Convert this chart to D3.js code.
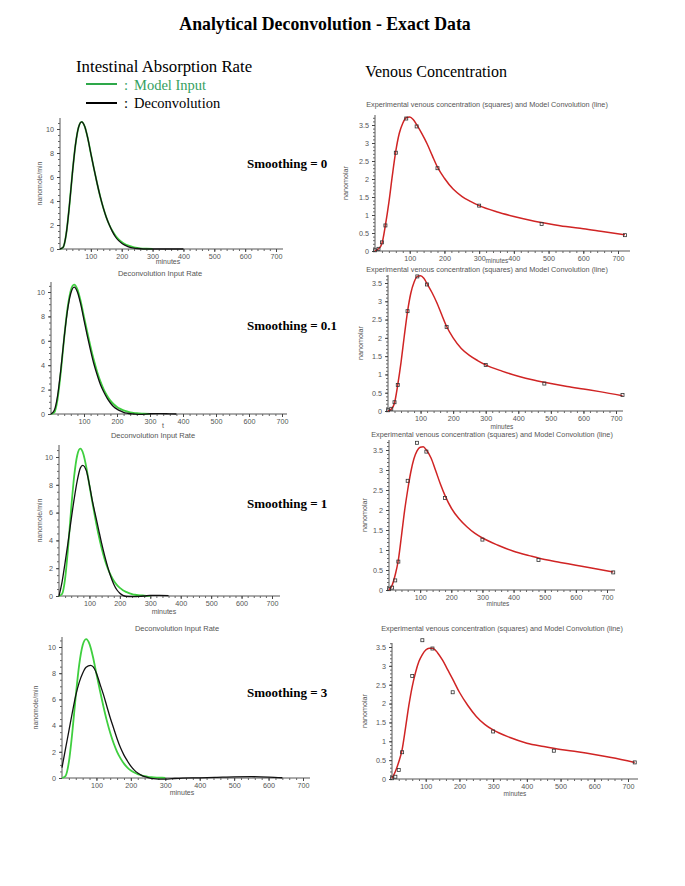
<!DOCTYPE html>
<html><head><meta charset="utf-8">
<script src="https://cdn.jsdelivr.net/npm/d3@7/dist/d3.min.js"></script>
<style>body{margin:0;background:#fff}svg{display:block}</style>
</head><body><svg id="c" width="685" height="886"></svg>
<script>
// ---------- DATA ----------
const smoothingLevels = ["0", "0.1", "1", "3"];
const rateTicksX = [100, 200, 300, 400, 500, 600, 700];
const rateTicksY = [0, 2, 4, 6, 8, 10];
const concTicksY = [0, 0.5, 1, 1.5, 2, 2.5, 3, 3.5];

// model input (green), nanomole/min
const modelT = [0,10,20,30,40,50,60,70,80,90,100,110,120,130,140,150,160,170,180,190,200,210,220,230,240,250,260,280,300];
const modelInput = [0,0.14,1.23,3.5,6.27,8.65,10.13,10.6,10.22,9.24,7.95,6.7,5.5,4.4,3.45,2.65,2.0,1.5,1.1,0.8,0.58,0.42,0.3,0.21,0.14,0.09,0.06,0.03,0.01];

// deconvolution (black) for each smoothing level
const deconv0T = [0,10,20,30,40,50,60,70,80,90,100,110,120,130,140,150,160,170,180,190,200,210,220,230,240,250,260,280,300,350,400];
const deconv0 = [0,0.14,1.23,3.5,6.27,8.65,10.13,10.6,10.22,9.24,7.95,6.7,5.5,4.4,3.45,2.65,2.0,1.45,1.0,0.7,0.48,0.32,0.2,0.12,0.07,0.04,0.02,0,0,0,0];
const deconv01T = [0,10,20,30,40,50,60,70,80,90,100,110,120,130,140,150,160,170,180,190,200,210,220,230,240,250,270,300,330,360,380];
const deconv01 = [0,0.3,1.5,3.7,6.3,8.5,9.9,10.4,10.0,9.0,7.7,6.4,5.2,4.1,3.2,2.4,1.8,1.3,0.9,0.6,0.4,0.25,0.14,0.07,0.02,0,-0.03,0.02,0.03,0.01,0];
const deconv1T = [0,10,20,30,40,50,60,70,78,90,100,110,120,130,140,150,160,170,180,190,200,210,220,240,260,280,300,330,360];
const deconv1 = [0,1.0,2.4,3.9,5.5,7.0,8.3,9.2,9.4,9.0,8.0,6.8,5.8,4.8,3.8,2.9,2.1,1.4,0.85,0.45,0.2,0.05,-0.02,-0.05,-0.03,0,0.04,0.05,0.02];
const deconv3T = [0,10,20,30,40,50,60,70,83,90,100,110,120,130,140,150,160,170,180,190,200,210,220,230,240,250,265,280,300,320,350,400,450,500,550,600,640];
const deconv3 = [0.8,2.2,3.6,5.0,6.3,7.3,8.0,8.45,8.6,8.5,8.0,7.2,6.4,5.5,4.6,3.8,3.0,2.3,1.75,1.3,0.9,0.6,0.38,0.22,0.1,0.03,-0.05,-0.08,-0.08,-0.05,-0.01,0.01,0.05,0.09,0.1,0.07,0.02];

// venous concentration: model convolution (red line)
const convT = [0,10,20,30,40,50,60,70,80,90,100,110,120,135,150,165,180,200,225,250,275,300,350,400,450,500,550,600,650,720];
const conv0 = [0,0.06,0.21,0.72,1.35,2.1,2.78,3.27,3.55,3.7,3.72,3.65,3.51,3.26,2.98,2.65,2.33,2.02,1.72,1.52,1.38,1.26,1.09,0.96,0.85,0.76,0.68,0.62,0.55,0.45];
const conv01 = [0,0.05,0.22,0.72,1.33,2.05,2.72,3.22,3.52,3.68,3.7,3.63,3.48,3.24,2.96,2.63,2.31,2.0,1.71,1.52,1.38,1.26,1.09,0.95,0.84,0.75,0.67,0.6,0.53,0.42];
const conv1 = [0,0.12,0.38,0.75,1.35,1.98,2.5,2.95,3.28,3.48,3.57,3.58,3.5,3.3,2.98,2.65,2.36,2.05,1.78,1.58,1.42,1.3,1.12,0.97,0.86,0.76,0.69,0.62,0.55,0.45];
const conv3 = [0.02,0.2,0.45,0.78,1.35,1.95,2.45,2.83,3.12,3.3,3.42,3.47,3.47,3.35,3.15,2.9,2.65,2.3,1.95,1.66,1.45,1.3,1.1,0.95,0.86,0.78,0.72,0.65,0.57,0.44];

// experimental venous concentration (squares)
const obsT = [0,10,20,30,60,90,120,180,300,480,720];
const obsConc = [0.02,0.06,0.24,0.71,2.73,3.68,3.46,2.3,1.26,0.75,0.44];

// ---------- LAYOUT ----------
const leftLayout = [
  {ox:60, x700:276, xEnd:283, oy:249, yT:129, yTop:118, yLab:42, xLabY:264, xLab:"minutes", xLabX:168, title:null, sY:168},
  {ox:51, x700:282, xEnd:287, oy:414, yT:292, yTop:282, yLab:null, xLabY:428, xLab:"t", xLabX:163, title:{y:276,x:160}, sY:330},
  {ox:59, x700:272, xEnd:280, oy:596, yT:457, yTop:445, yLab:42, xLabY:614, xLab:"minutes", xLabX:164, title:{y:438,x:153}, sY:508},
  {ox:62, x700:303, xEnd:310, oy:778, yT:647, yTop:637, yLab:38, xLabY:795, xLab:"minutes", xLabX:182, title:{y:631,x:177}, sY:697}
];
const rightLayout = [
  {ox:375, x700:618, xEnd:630, oy:251, yT:125, yTop:115, yLab:348, xLabY:263, xLabX:497, title:{y:272,x:487}, t0:107},
  {ox:388, x700:616, xEnd:623, oy:411, yT:283, yTop:275, yLab:363, xLabY:428.5, xLabX:502, title:{y:437,x:492}, t0:null},
  {ox:389, x700:607, xEnd:615, oy:590, yT:450, yTop:440, yLab:367, xLabY:606, xLabX:498, title:null, t0:null},
  {ox:392, x700:628, xEnd:638, oy:779, yT:647, yTop:643, yLab:367, xLabY:796, xLabX:515, title:null, t0:631}
];
const deconvSeries = [[deconv0T,deconv0],[deconv01T,deconv01],[deconv1T,deconv1],[deconv3T,deconv3]];
const convSeries = [conv0, conv01, conv1, conv3];

const svg = d3.select("#c");
const SANS = "'Liberation Sans', Arial, sans-serif";
const SERIF = "'Liberation Serif', 'Times New Roman', serif";
const GREEN = "#3fcf3f", RED = "#d02424", BLACK = "#111";
const CONC_TITLE = "Experimental venous concentration (squares) and Model Convolution (line)";

// headings
svg.append("text").attr("x", 325).attr("y", 30).attr("text-anchor","middle")
  .attr("font-family", SERIF).attr("font-weight","bold").attr("font-size",17.8)
  .text("Analytical Deconvolution - Exact Data");
svg.append("text").attr("x", 76).attr("y", 72).attr("font-family", SERIF).attr("font-size",16.8)
  .text("Intestinal Absorption Rate");
svg.append("text").attr("x", 436).attr("y", 77).attr("text-anchor","middle")
  .attr("font-family", SERIF).attr("font-size",16).text("Venous Concentration");
// legend
svg.append("line").attr("x1",86).attr("x2",117).attr("y1",84).attr("y2",84).attr("stroke","#2ea84a").attr("stroke-width",2);
svg.append("text").attr("x",124).attr("y",90).attr("font-family",SERIF).attr("font-size",14.5).attr("fill","#35a060").text(":");
svg.append("text").attr("x",134).attr("y",90).attr("font-family",SERIF).attr("font-size",14.5).attr("fill","#35a060").text("Model Input");
svg.append("line").attr("x1",86).attr("x2",117).attr("y1",103).attr("y2",103).attr("stroke","#000").attr("stroke-width",2);
svg.append("text").attr("x",124).attr("y",108).attr("font-family",SERIF).attr("font-size",14.5).text(":");
svg.append("text").attr("x",134).attr("y",108).attr("font-family",SERIF).attr("font-size",14.5).text("Deconvolution");

function drawAxes(g, L, x, y, yTicks, yMinorStep, yMax, fmt) {
  g.append("line").attr("x1",L.ox).attr("x2",L.xEnd).attr("y1",L.oy).attr("y2",L.oy).attr("stroke","#444").attr("stroke-width",0.9);
  g.append("line").attr("x1",L.ox).attr("x2",L.ox).attr("y1",L.oy).attr("y2",L.yTop).attr("stroke","#444").attr("stroke-width",0.9);
  const xm = d3.range(20, 720, 20);
  g.append("g").attr("transform",`translate(0,${L.oy})`)
    .call(d3.axisBottom(x).tickValues(xm).tickSize(2).tickFormat(""))
    .call(s => { s.select(".domain").remove(); s.selectAll("line").attr("stroke","#666"); });
  g.append("g").attr("transform",`translate(0,${L.oy})`)
    .call(d3.axisBottom(x).tickValues(rateTicksX).tickSize(3).tickPadding(1.5))
    .call(s => { s.select(".domain").remove(); s.selectAll("line").attr("stroke","#444");
      s.selectAll("text").attr("font-family",SANS).attr("font-size",7.2).attr("fill","#555"); });
  const ym = d3.range(0, yMax + 1e-9, yMinorStep);
  g.append("g").attr("transform",`translate(${L.ox},0)`)
    .call(d3.axisLeft(y).tickValues(ym).tickSize(2).tickFormat(""))
    .call(s => { s.select(".domain").remove(); s.selectAll("line").attr("stroke","#666"); });
  g.append("g").attr("transform",`translate(${L.ox},0)`)
    .call(d3.axisLeft(y).tickValues(yTicks).tickSize(3).tickPadding(3).tickFormat(fmt))
    .call(s => { s.select(".domain").remove(); s.selectAll("line").attr("stroke","#444");
      s.selectAll("text").attr("font-family",SANS).attr("font-size",7.2).attr("fill","#555"); });
}

// ---------- LEFT PANELS ----------
leftLayout.forEach((L, i) => {
  const g = svg.append("g");
  const x = d3.scaleLinear().domain([0,700]).range([L.ox, L.x700]);
  const y = d3.scaleLinear().domain([0,10]).range([L.oy, L.yT]);
  drawAxes(g, L, x, y, rateTicksY, 0.5, y.invert(L.yTop), d3.format("d"));
  const line = d3.line().x(d => x(d[0])).y(d => y(d[1])).curve(d3.curveMonotoneX);
  g.append("path").attr("d", line(modelT.map((t,k)=>[t, modelInput[k]])))
    .attr("fill","none").attr("stroke",GREEN).attr("stroke-width",1.8);
  const [dt, dv] = deconvSeries[i];
  g.append("path").attr("d", line(dt.map((t,k)=>[t, dv[k]])))
    .attr("fill","none").attr("stroke",BLACK).attr("stroke-width",1.3);
  if (L.yLab) g.append("text").attr("transform",`translate(${L.yLab},${(L.oy+L.yTop)/2}) rotate(-90)`)
    .attr("text-anchor","middle").attr("font-family",SANS).attr("font-size",7).attr("fill","#555").text("nanomole/min");
  g.append("text").attr("x",L.xLabX).attr("y",L.xLabY).attr("text-anchor","middle")
    .attr("font-family",SANS).attr("font-size",7).attr("fill","#555").text(L.xLab);
  if (L.title) g.append("text").attr("x",L.title.x).attr("y",L.title.y).attr("text-anchor","middle")
    .attr("font-family",SANS).attr("font-size",7.5).attr("fill","#555").text("Deconvolution Input Rate");
  svg.append("text").attr("x",247).attr("y",L.sY).attr("font-family",SERIF).attr("font-weight","bold")
    .attr("font-size",13).text("Smoothing = " + smoothingLevels[i]);
});

// ---------- RIGHT PANELS ----------
rightLayout.forEach((L, i) => {
  const g = svg.append("g");
  const x = d3.scaleLinear().domain([0,700]).range([L.ox, L.x700]);
  const y = d3.scaleLinear().domain([0,3.5]).range([L.oy, L.yT]);
  drawAxes(g, L, x, y, concTicksY, 0.1, y.invert(L.yTop), d3.format("~g"));
  const line = d3.line().x(d => x(d[0])).y(d => y(d[1])).curve(d3.curveMonotoneX);
  g.append("path").attr("d", line(convT.map((t,k)=>[t, convSeries[i][k]])))
    .attr("fill","none").attr("stroke",RED).attr("stroke-width",1.5);
  g.selectAll("rect.obs").data(obsT.map((t,k)=>[t, obsConc[k]])).join("rect")
    .attr("x", d => x(d[0]) - 1.5).attr("y", d => y(d[1]) - 1.5).attr("width",3).attr("height",3)
    .attr("fill","none").attr("stroke","#333").attr("stroke-width",0.8);
  g.append("text").attr("transform",`translate(${L.yLab},${(L.oy+L.yTop)/2}) rotate(-90)`)
    .attr("text-anchor","middle").attr("font-family",SANS).attr("font-size",7.2).attr("fill","#555").text("nanomolar");
  g.append("text").attr("x",L.xLabX).attr("y",L.xLabY).attr("text-anchor","middle")
    .attr("font-family",SANS).attr("font-size",6.5).attr("fill","#555").text("minutes");
  if (L.t0) g.append("text").attr("x", i === 0 ? 487 : 502).attr("y", L.t0).attr("text-anchor","middle")
    .attr("font-family",SANS).attr("font-size",7.3).attr("fill","#555").text(CONC_TITLE);
  if (L.title) g.append("text").attr("x",L.title.x).attr("y",L.title.y).attr("text-anchor","middle")
    .attr("font-family",SANS).attr("font-size",7.3).attr("fill","#555").text(CONC_TITLE);
});
</script></body></html>
